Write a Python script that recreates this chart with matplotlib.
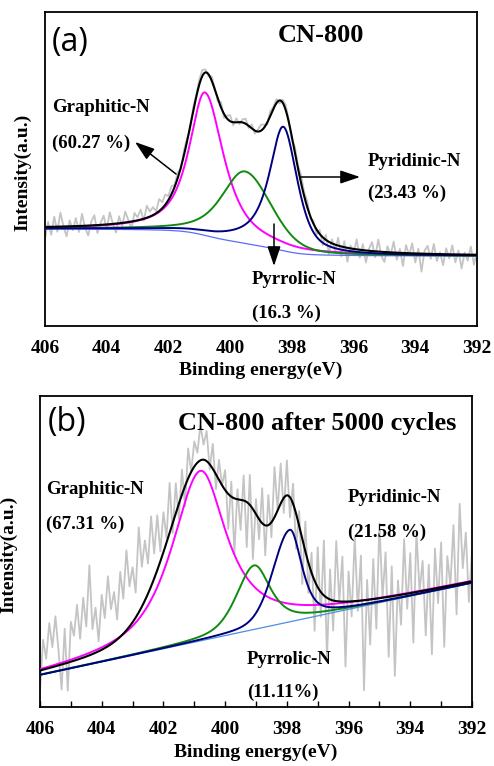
import numpy as np
import matplotlib
matplotlib.use("Agg")
import matplotlib.pyplot as plt
from matplotlib.ticker import MultipleLocator

# ---------------- data ----------------
x_limits = [406, 392]
x_ticks = [406, 404, 402, 400, 398, 396, 394, 392]
species = ["Graphitic-N", "Pyrrolic-N", "Pyridinic-N"]

# panel (a): CN-800 -- fitted components (high-BE side / low-BE side shapes)
a_centers = [400.82, 399.52, 398.28]
a_heights = [143, 72, 124]
a_fwhm_hi = [1.22, 1.80, 1.10]
a_fwhm_lo = [1.45, 2.00, 1.08]
a_eta_hi = [0.85, 0.55, 0.90]
a_eta_lo = [0.80, 0.30, 0.60]
# fitted envelope
a_env_centers = [400.82, 399.55, 398.32]
a_env_heights = [150, 81, 133]
a_env_fwhm_hi = [1.30, 1.30, 1.20]
a_env_fwhm_lo = [1.30, 1.30, 1.20]
a_env_eta = [0.60, 0.30, 0.50]
a_bg_ends = [97, 70]          # background level at 406 eV and at 392 eV
a_percent = ["(60.27 %)", "(16.3 %)", "(23.43 %)"]
a_resid = [
    -12, 5, -8, 10, -5, 14, 0, -10, 6, -4,
    8, -6, 12, -2, -10, 4, 10, -8, 2, 9,
    -5, 12, 0, -9, 7, -3, 11, 2, -7, 8,
    3, 10, -2, 12, 5, 8, 2, 12, 6, 10,
    4, 8, 2, 6, -2, 5, 3, -3, 4, 2,
    5, 6, 3, -2, 4, 2, -3, 5, -4, 3,
    6, -3, 4, -2, 3, 5, -2, 4, -3, 2,
    6, 3, -2, 5, 2, 4, -3, 3, 5, 2,
    -3, 6, 3, 8, 4, 6, -2, 3, -5, 4,
    -8, 5, -12, 4, -6, 8, -10, 6, -14, 3,
    -5, 10, -8, 6, -12, 2, 9, -6, 12, -4,
    -10, 6, -3, 11, -7, 4, -13, 8, -2, 10,
    -9, 5, -18, 3, 8, -5, 10, -7, 2, -11,
    6, -4, 9, -8, 4, -14, 2, -6, 8, -10,
    4,
]

# panel (b): CN-800 after 5000 cycles
b_centers = [400.80, 399.06, 397.90]
b_heights = [170, 64, 92]
b_fwhm_hi = [2.20, 1.35, 1.30]
b_fwhm_lo = [2.05, 1.25, 0.90]
b_eta_hi = [0.80, 0.50, 0.30]
b_eta_lo = [0.95, 0.70, 0.60]
b_env_centers = [400.78, 399.20, 397.95]
b_env_heights = [176, 67, 110]
b_env_fwhm_hi = [2.60, 1.20, 1.15]
b_env_fwhm_lo = [2.20, 1.20, 1.15]
b_env_eta = [0.40, 0.30, 0.40]
b_bg_ends = [32, 124]
b_percent = ["(67.31 %)", "(11.11%)", "(21.58 %)"]
b_resid = [
    -20, 30, 10, 45, 20, 50, 15, -25, 35, -28,
    40, 25, 55, 20, 60, 30, 90, 25, 45, 10,
    55, 30, 70, 35, 50, 20, 65, 35, 80, 40,
    55, 25, 85, 40, 60, 30, 70, 25, 55, 10,
    40, 5, 50, -10, 30, -15, 25, -20, 30, 0,
    25, 10, 35, 15, 30, -5, 25, -15, 20, 0,
    20, -35, 15, -55, 10, -30, 25, -45, 30, -50,
    15, -20, 35, -30, 30, -15, 50, 0, 40, -15,
    35, -20, 20, -35, 15, -45, 30, -30, 20, -50,
    40, -25, 55, -60, 30, -30, 60, 0, 45, -65,
    30, -15, 65, -10, 45, -90, 20, -45, 40, -30,
    75, 0, 45, -60, 30, -80, 15, -30, 55, -15,
    40, -50, 60, 0, 30, -45, 25, -65, 40, -15,
    45, -60, 30, 0, 60, -30, 80, 15, 50, -20,
    30,
]

# ---------------- helpers ----------------
W, H = 494, 766
SERIF = "Liberation Serif"
C_PEAKS = ["#ff00ff", "#118a11", "#000080"]


def pseudo_voigt(x, c, h, w_hi, w_lo, e_hi, e_lo):
    hi = x >= c
    w = np.where(hi, w_hi, w_lo)
    e = np.where(hi, e_hi, e_lo)
    r = (x - c) / w
    return h * (e / (1 + 4 * r ** 2) + (1 - e) * np.exp(-4 * np.log(2) * r ** 2))


def build(comp, env, bg_ends, shirley):
    x = np.linspace(x_limits[0], x_limits[1], 1401)
    peaks = [pseudo_voigt(x, *p) for p in zip(*comp)]
    env_total = np.sum([pseudo_voigt(x, c, h, wh, wl, e, e) for c, h, wh, wl, e in zip(*env)], axis=0)
    if shirley:
        cum = np.cumsum(env_total[::-1])[::-1]
        bg = bg_ends[1] + (bg_ends[0] - bg_ends[1]) * cum / cum[0]
    else:
        bg = bg_ends[1] + (bg_ends[0] - bg_ends[1]) * (x - x_limits[1]) / (x_limits[0] - x_limits[1])
    return x, bg, peaks, bg + env_total


def ftext(xp, yp, s, **kw):
    fig.text(xp / W, 1 - yp / H, s, **kw)


def arrow(x1, y1, x2, y2):
    fig.axes[0].annotate(
        "", xy=(x2, H - y2), xytext=(x1, H - y1),
        xycoords="figure pixels", textcoords="figure pixels",
        arrowprops=dict(arrowstyle="-|>,head_length=0.8,head_width=0.27",
                        mutation_scale=15, color="black", lw=1.1,
                        shrinkA=0, shrinkB=0))


fig = plt.figure(figsize=(W / 100, H / 100), dpi=100)
ax_a = fig.add_axes([45 / W, 1 - 326 / H, 432 / W, 314 / H])
ax_b = fig.add_axes([40 / W, 1 - 707 / H, 432 / W, 311.3 / H])

panels = [
    (ax_a, (a_centers, a_heights, a_fwhm_hi, a_fwhm_lo, a_eta_hi, a_eta_lo),
     (a_env_centers, a_env_heights, a_env_fwhm_hi, a_env_fwhm_lo, a_env_eta), a_bg_ends, a_resid, True,
     314, "#5a6cff", -0.051, -0.140),
    (ax_b, (b_centers, b_heights, b_fwhm_hi, b_fwhm_lo, b_eta_hi, b_eta_lo),
     (b_env_centers, b_env_heights, b_env_fwhm_hi, b_env_fwhm_lo, b_env_eta), b_bg_ends, b_resid, False,
     311.3, "#4a90e2", -0.072, -0.1466),
]

for ax, comp, env, bge, resid, shir, ytop, bgcol, ylx, xly in panels:
    x, bg, peaks, envelope = build(comp, env, bge, shir)
    xr = x[::10]
    raw = envelope[::10] + np.array(resid)
    ax.plot(xr, raw, color="#c4c4c4", lw=1.3, zorder=1)
    ax.plot(x, bg, color=bgcol, lw=0.9, zorder=2)
    for p, col in zip(peaks, C_PEAKS):
        ax.plot(x, bg + p, color=col, lw=1.4, zorder=3)
    ax.plot(x, envelope, color="black", lw=1.5, zorder=4)
    ax.set_xlim(*x_limits)
    ax.set_ylim(0, ytop)
    ax.set_xticks(x_ticks)
    ax.set_xticklabels([str(t) for t in x_ticks], fontfamily=SERIF, fontweight="bold", fontsize=14)
    ax.set_yticks([])
    for s in ax.spines.values():
        s.set_linewidth(1.3)
        s.set_color("black")
    ax.set_ylabel("Intensity(a.u.)", fontfamily=SERIF, fontweight="bold", fontsize=14)
    ax.yaxis.set_label_coords(ylx, 0.49)
    ax.yaxis.label.set_verticalalignment("center")
    ax.set_xlabel("Binding energy(eV)", fontfamily=SERIF, fontweight="bold", fontsize=14)
    ax.xaxis.set_label_coords(0.5, xly)
    ax.xaxis.label.set_verticalalignment("center")

ax_a.tick_params(axis="x", length=0, pad=10)
ax_b.xaxis.set_minor_locator(MultipleLocator(1))
ax_b.tick_params(axis="x", which="both", direction="in", length=4, width=1, pad=10)

# ---------------- annotations ----------------
lab = dict(fontfamily=SERIF, fontweight="bold", fontsize=13.5, ha="left", va="center")
big = dict(fontfamily=SERIF, fontweight="bold", fontsize=19, ha="left", va="center")
pan = dict(fontfamily="Open Sans", fontsize=23, ha="left", va="center")

ftext(52, 42, "(a)", **pan)
ftext(278, 35, "CN-800", **big)
ftext(52, 108, species[0], **lab)
ftext(52, 143, a_percent[0], **lab)
ftext(368, 161, species[2], **lab)
ftext(368, 193, a_percent[2], **lab)
ftext(252, 279, species[1], **lab)
ftext(252, 313, a_percent[1], **lab)
arrow(176, 174, 135, 142)
arrow(300, 177, 360, 177)
arrow(274, 224, 274, 266)

ftext(48, 422, "(b)", **pan)
ftext(178, 423, "CN-800 after 5000 cycles", **big)
ftext(46, 490, species[0], **lab)
ftext(46, 524, b_percent[0], **lab)
ftext(348, 498, species[2], **lab)
ftext(348, 532, b_percent[2], **lab)
ftext(247, 659, species[1], **lab)
ftext(247, 692, b_percent[1], **lab)
arrow(168, 555, 135, 529)
arrow(293, 558, 345, 516)
arrow(269, 603, 269, 646)

fig.savefig("out.png", dpi=100)
